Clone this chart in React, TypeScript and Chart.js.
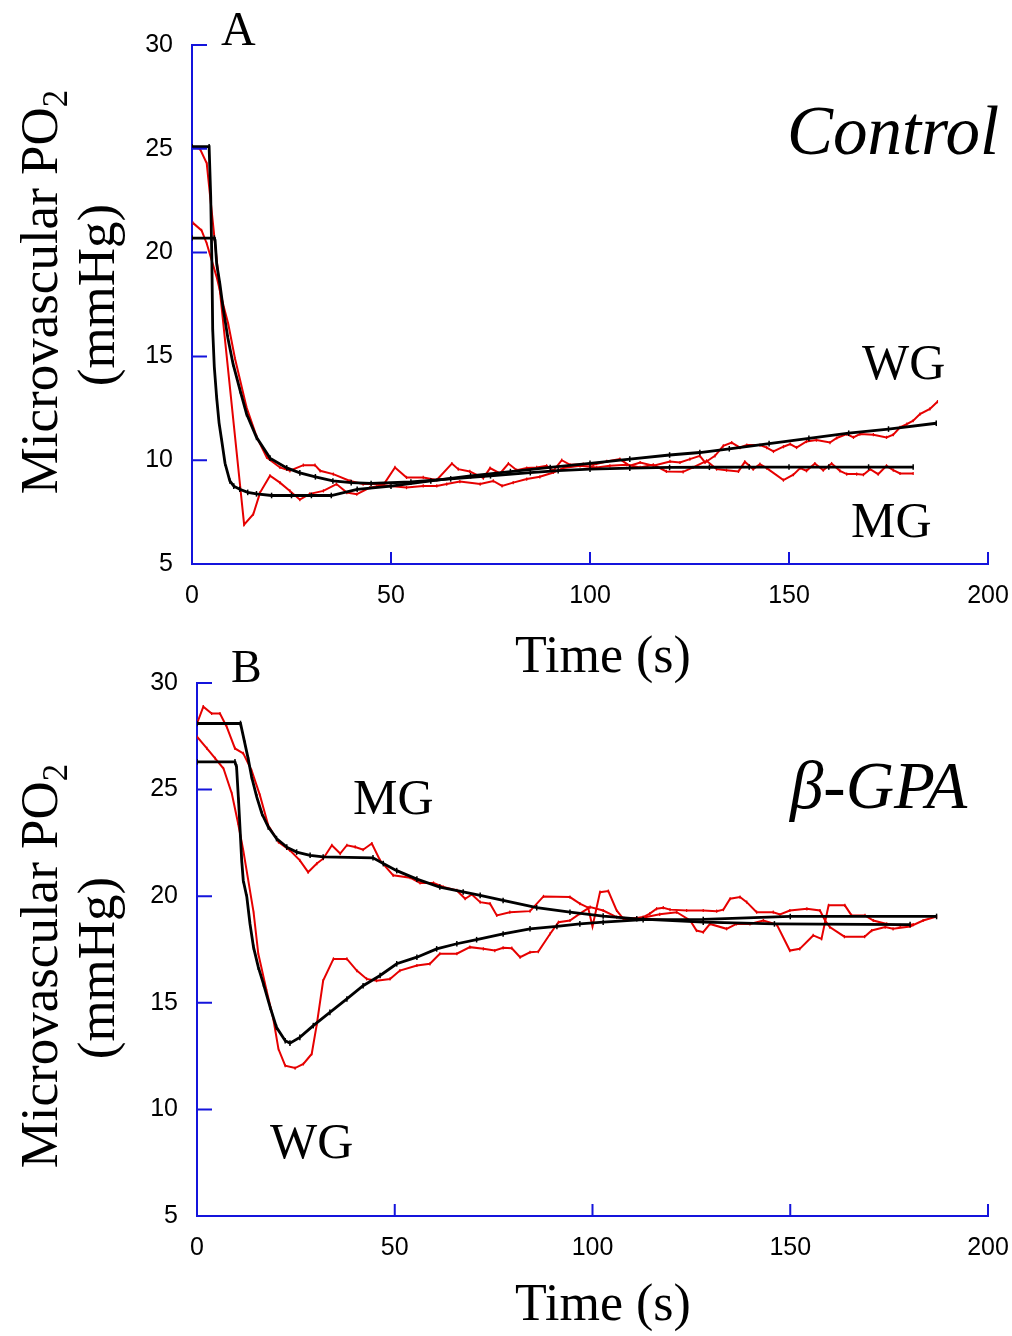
import React, { useEffect, useRef } from "react";
import { Chart, registerables } from "chart.js";

Chart.register(...registerables);

// ---------------- Data ----------------
// Panel A — Control
const ctlWgFitT = [0, 4.3, 4.7, 5.0, 5.2, 5.6, 6.2, 6.8, 7.5, 8.3, 9.5, 10.5, 12, 14, 16.2, 20, 25, 30, 35, 41.5, 50, 60, 70, 80, 90, 100, 110, 120, 127.6, 135, 145, 155, 165, 175, 187];
const ctlWgFitV = [25.1, 25.1, 22.7, 19.5, 16.3, 14.5, 13.0, 11.8, 10.9, 9.85, 9.0, 8.75, 8.6, 8.45, 8.38, 8.3, 8.3, 8.3, 8.3, 8.6, 8.75, 9.0, 9.25, 9.45, 9.65, 9.85, 10.05, 10.25, 10.37, 10.55, 10.8, 11.05, 11.3, 11.5, 11.78];

const ctlMgFitT = [0, 5.6, 5.8, 6.2, 7.0, 7.8, 9.0, 10.3, 12.1, 13.7, 16.2, 19.6, 23.8, 27.1, 31, 35.4, 40, 45, 55, 65, 75, 85, 92, 100, 110, 120, 130, 140, 150, 160, 170, 181.2];
const ctlMgFitV = [20.7, 20.7, 20.6, 19.46, 18.5, 17.35, 15.9, 14.65, 13.35, 12.24, 11.1, 10.1, 9.63, 9.39, 9.2, 9.0, 8.92, 8.88, 8.95, 9.1, 9.25, 9.4, 9.5, 9.57, 9.62, 9.65, 9.66, 9.67, 9.67, 9.67, 9.67, 9.67];

const ctlWgDataT = [0.2, 2.0, 3.7, 13.1, 15.4, 17.1, 19.6, 22.1, 24.6, 27.1, 29.6, 33, 36.3, 38.9, 41.4, 44.7, 48.1, 51, 53.9, 58.1, 61.5, 65.3, 66.9, 69.8, 73.2, 74.9, 77.4, 79.5, 81.6, 84.1, 86.6, 89.1, 90.8, 92.9, 95, 98.3, 100.8, 104.2, 107.5, 110, 112.6, 115.9, 120.1, 122.6, 125.1, 127.6, 128.9, 131.4, 133.5, 135.6, 137.7, 139.4, 142.7, 144.4, 146.1, 148.6, 150.3, 151.9, 154.4, 156.9, 160.3, 162, 164.5, 166.2, 167.8, 171.2, 174.5, 176.2, 177.9, 179.6, 181.2, 182.9, 185.4, 187.3];
const ctlWgDataV = [25.08, 25.0, 24.3, 6.9, 7.4, 8.44, 9.25, 8.92, 8.52, 8.1, 8.38, 8.52, 8.85, 8.44, 8.36, 8.68, 8.81, 9.65, 9.17, 9.17, 9.05, 9.84, 9.57, 9.46, 9.14, 9.62, 9.36, 9.84, 9.52, 9.62, 9.65, 9.73, 9.49, 10.0, 9.78, 9.81, 9.78, 9.94, 10.05, 9.73, 9.89, 9.73, 9.94, 9.89, 10.05, 10.21, 9.89, 10.21, 10.69, 10.85, 10.61, 10.73, 10.73, 10.61, 10.42, 10.65, 10.78, 10.61, 10.9, 10.97, 10.85, 11.07, 11.26, 11.1, 11.26, 11.23, 11.1, 11.23, 11.58, 11.74, 11.9, 12.22, 12.47, 12.82];

const ctlMgDataT = [0.3, 2.4, 3.7, 6.2, 7.9, 9.1, 10.8, 13.7, 16.3, 18.8, 22.1, 24.6, 27.97, 30.9, 32.2, 35.5, 39.7, 43, 46.4, 49.7, 53.9, 58.1, 61.5, 64, 67.3, 72.4, 75.7, 77.9, 80.7, 84.1, 87.4, 90.8, 93.3, 97.5, 101.7, 105, 109.2, 112.6, 115.9, 119.2, 123.4, 125.9, 129.3, 131.8, 134.3, 137.3, 138.9, 141, 142.7, 144.4, 148.6, 151.1, 152.8, 154.4, 156.5, 158.6, 160.7, 162.8, 164.5, 167, 168.7, 170.4, 172.4, 174.5, 176.2, 177.9, 181.2];
const ctlMgDataV = [21.42, 21.07, 20.44, 18.82, 17.45, 16.57, 14.9, 12.55, 11.1, 10.13, 9.65, 9.49, 9.76, 9.76, 9.49, 9.33, 9.0, 8.85, 8.85, 8.76, 8.68, 8.76, 8.76, 8.85, 8.97, 8.85, 9.0, 8.76, 8.92, 9.09, 9.2, 9.41, 9.62, 9.73, 9.65, 9.73, 9.78, 9.65, 9.78, 9.46, 9.44, 9.65, 9.97, 9.57, 9.52, 9.46, 9.92, 9.57, 9.81, 9.62, 9.04, 9.3, 9.62, 9.49, 9.84, 9.52, 9.84, 9.49, 9.33, 9.33, 9.3, 9.57, 9.33, 9.73, 9.52, 9.36, 9.36];

// Panel B — β-GPA
const gpaMgFitT = [0, 11, 12.1, 13, 13.8, 15.1, 16.4, 18, 20.1, 22.7, 25.2, 28.6, 31.9, 44.5, 47.1, 50.5, 55.6, 61.4, 67.3, 71.6, 77.4, 85.9, 94.3, 102.7, 111.2, 128, 146, 180.3];
const gpaMgFitV = [28.1, 28.1, 27.17, 26.4, 25.6, 24.66, 23.88, 23.25, 22.7, 22.3, 22.07, 21.92, 21.84, 21.8, 21.53, 21.2, 20.8, 20.43, 20.2, 20.04, 19.8, 19.46, 19.25, 19.07, 18.94, 18.78, 18.7, 18.67];

const gpaWgFitT = [0, 9.6, 10, 10.5, 10.9, 11.3, 11.7, 12.6, 13.4, 14.3, 15.5, 16.8, 18.5, 20.1, 22.3, 23.5, 26, 29.4, 33.6, 37.9, 42, 46.3, 50.5, 55.6, 60.6, 65.7, 70.7, 77.4, 84.2, 91, 96.8, 102.7, 112.8, 128, 150, 187];
const gpaWgFitV = [26.3, 26.3, 26.07, 24.5, 23.1, 21.68, 20.74, 19.96, 18.7, 17.6, 16.67, 15.89, 14.79, 13.85, 13.22, 13.11, 13.38, 13.93, 14.55, 15.18, 15.8, 16.28, 16.83, 17.14, 17.53, 17.77, 17.96, 18.23, 18.47, 18.58, 18.7, 18.78, 18.9, 18.91, 19.05, 19.05];

const gpaMgDataT = [0, 1.6, 3.7, 5.8, 7.5, 9.6, 11.7, 13.8, 15.9, 18, 20.6, 23.5, 26, 28.1, 30.3, 31.9, 34.1, 36.2, 37.9, 40, 42, 44.2, 46.3, 49.6, 53.9, 56.4, 59.8, 62.3, 65.7, 67.8, 69.5, 71.6, 74.1, 75.8, 79.1, 84.2, 87.6, 94.3, 96.8, 98.9, 100, 101.9, 104, 106.1, 107.8, 109.5, 112.8, 114.5, 116.2, 117.9, 119.6, 123.8, 128, 131.4, 133.1, 134.8, 137.3, 139, 141.5, 145.7, 147.4, 149.9, 154.2, 157.5, 158.8, 160, 163.7, 168.8, 170.6, 174, 176, 180.3, 183.6, 187];
const gpaMgDataV = [28.1, 28.89, 28.57, 28.57, 27.95, 26.93, 26.7, 25.9, 24.74, 23.33, 22.54, 22.15, 21.68, 21.13, 21.53, 21.76, 22.39, 22.0, 22.39, 22.31, 22.18, 22.47, 21.68, 20.98, 20.87, 20.62, 20.62, 20.43, 20.27, 19.88, 20.08, 19.72, 19.65, 19.1, 19.25, 19.3, 19.99, 19.96, 19.65, 19.46, 18.58, 20.19, 20.24, 19.33, 18.94, 18.91, 19.02, 19.18, 19.41, 19.46, 19.37, 19.33, 19.33, 19.3, 19.37, 19.88, 19.96, 19.72, 19.25, 19.25, 19.14, 19.33, 19.41, 19.33, 18.86, 18.55, 18.1, 18.1, 18.39, 18.55, 18.47, 18.58, 18.86, 19.05];

const gpaWgDataT = [0, 2.5, 4.6, 6.7, 8.8, 10.4, 11.7, 14.3, 15.5, 17.6, 19.3, 20.6, 22.3, 24.8, 26.9, 29, 30.3, 31.9, 34.5, 37.9, 40.4, 42.9, 45.4, 48.8, 51.3, 55.6, 58.9, 61.4, 65.7, 69, 72.4, 75.3, 77.4, 79.6, 81.7, 84.2, 86.3, 89.3, 91.4, 94.3, 96.8, 99.4, 102.7, 106.1, 109.5, 113, 117, 121.3, 124.7, 126.3, 128, 129.7, 133.9, 136.4, 139.8, 143.2, 146.6, 149.9, 152.4, 155.8, 157.9, 159.7, 163.8, 165.5, 168.9, 171, 174.4, 177.8, 181.1];
const gpaWgDataV = [27.48, 26.93, 26.46, 25.99, 24.82, 23.41, 22.15, 19.25, 17.3, 15.57, 14.24, 12.83, 12.05, 11.94, 12.13, 12.6, 14.0, 16.04, 17.06, 17.06, 16.51, 16.12, 16.04, 16.12, 16.51, 16.75, 16.83, 17.3, 17.3, 17.61, 17.53, 17.45, 17.58, 17.56, 17.14, 17.37, 17.4, 18.24, 18.78, 18.86, 19.18, 19.49, 19.33, 19.02, 18.95, 19.0, 19.15, 19.25, 18.86, 18.39, 18.31, 18.7, 18.47, 18.7, 18.7, 18.86, 18.67, 17.45, 17.53, 18.16, 18.0, 19.57, 19.57, 19.1, 19.1, 18.86, 18.7, 18.63, 18.67];

const xTickMin = 0;
const xTickMax = 200;
const xTickStep = 50;
const yTickMin = 5;
const yTickMax = 30;
const yTickStep = 5;

// ---------------- Styling ----------------
const AXIS_BLUE = "#1414dc";
const RED = "#e60000";
const SERIF = '"Liberation Serif", "Times New Roman", serif';
const SANS = '"Liberation Sans", Arial, sans-serif';

const zip = (t: number[], v: number[]) => t.map((x, i) => ({ x, y: v[i] }));

const fitDs = (t: number[], v: number[]) => ({
  data: zip(t, v),
  borderColor: "#000",
  borderWidth: 2.8,
  pointStyle: "line",
  pointRotation: 90,
  pointRadius: 2.8,
  pointBorderWidth: 1.5,
  pointBorderColor: "#000",
  pointBackgroundColor: "#000",
  fill: false,
  tension: 0,
});

const dataDs = (t: number[], v: number[]) => ({
  data: zip(t, v),
  borderColor: RED,
  borderWidth: 2,
  pointStyle: "line",
  pointRotation: 90,
  pointRadius: 1.6,
  pointBorderWidth: 1.2,
  pointBorderColor: RED,
  pointBackgroundColor: RED,
  fill: false,
  tension: 0,
});

type TextItem = { text: string; x: number; y: number; font: string; align?: CanvasTextAlign };

const decorPlugin = {
  id: "decor",
  afterDraw(chart: any, _args: any, opts: any) {
    const ctx: CanvasRenderingContext2D = chart.ctx;
    const area = chart.chartArea;
    const xs = chart.scales.x;
    const ys = chart.scales.y;
    ctx.save();
    // inward tick marks
    ctx.strokeStyle = AXIS_BLUE;
    ctx.lineWidth = 2;
    ctx.beginPath();
    xs.ticks.forEach((t: any) => {
      if (t.value === xTickMin) return;
      const px = xs.getPixelForValue(t.value);
      ctx.moveTo(px, area.bottom);
      ctx.lineTo(px, area.bottom - 12);
    });
    ys.ticks.forEach((t: any) => {
      if (t.value === yTickMin) return;
      const py = ys.getPixelForValue(t.value);
      ctx.moveTo(area.left, py);
      ctx.lineTo(area.left + 15, py);
    });
    ctx.stroke();

    // free texts
    ctx.fillStyle = "#000";
    ctx.textBaseline = "alphabetic";
    (opts.texts as TextItem[]).forEach((t) => {
      ctx.font = t.font;
      ctx.textAlign = t.align || "left";
      ctx.fillText(t.text, t.x, t.y);
    });

    // rotated y title with subscript
    const drawRot = (baseX: number, cy: number, main: string, sub: string) => {
      ctx.save();
      ctx.translate(baseX, cy);
      ctx.rotate(-Math.PI / 2);
      ctx.textAlign = "left";
      ctx.font = `53px ${SERIF}`;
      const w1 = ctx.measureText(main).width;
      ctx.font = `35px ${SERIF}`;
      const w2 = sub ? ctx.measureText(sub).width : 0;
      const x0 = -(w1 + w2) / 2;
      ctx.font = `53px ${SERIF}`;
      ctx.fillText(main, x0, 0);
      if (sub) {
        ctx.font = `35px ${SERIF}`;
        ctx.fillText(sub, x0 + w1, 10);
      }
      ctx.restore();
    };
    drawRot(opts.titleX, opts.titleY, "Microvascular PO", "2");
    drawRot(opts.unitX, opts.unitY, "(mmHg)", "");
    ctx.restore();
  },
};

type PanelProps = {
  top: number;
  height: number;
  plotTop: number;
  plotBottom: number;
  plotLeft: number;
  plotRight: number;
  datasets: any[];
  texts: TextItem[];
  titleY: number;
  unitY: number;
};

function Panel(p: PanelProps) {
  const ref = useRef<HTMLCanvasElement>(null);
  useEffect(() => {
    const chart = new Chart(ref.current as HTMLCanvasElement, {
      type: "line",
      data: { datasets: p.datasets },
      options: {
        animation: false,
        responsive: false,
        devicePixelRatio: 1,
        layout: { padding: { left: 0, right: 1012 - p.plotRight, top: p.plotTop, bottom: 0 } },
        plugins: {
          legend: { display: false },
          tooltip: { enabled: false },
          decor: { texts: p.texts, titleX: 57, titleY: p.titleY, unitX: 114, unitY: p.unitY },
        } as any,
        scales: {
          x: {
            type: "linear",
            min: xTickMin,
            max: xTickMax,
            ticks: {
              stepSize: xTickStep,
              color: "#000",
              font: { family: SANS, size: 25 },
              padding: 17,
              maxRotation: 0,
            },
            grid: { display: false, drawTicks: false, tickLength: 0 },
            border: { display: true, color: AXIS_BLUE, width: 2 },
            afterFit: (s: any) => {
              s.height = p.height - p.plotBottom;
              s.paddingLeft = 0;
              s.paddingRight = 0;
            },
          },
          y: {
            type: "linear",
            min: yTickMin,
            max: yTickMax,
            ticks: {
              stepSize: yTickStep,
              color: "#000",
              font: { family: SANS, size: 25 },
              padding: 19,
            },
            grid: { display: false, drawTicks: false, tickLength: 0 },
            border: { display: true, color: AXIS_BLUE, width: 2 },
            afterFit: (s: any) => {
              s.width = p.plotLeft;
              s.paddingTop = 0;
              s.paddingBottom = 0;
            },
          },
        },
      } as any,
      plugins: [decorPlugin as any],
    });
    return () => chart.destroy();
  }, []);
  return (
    <canvas
      ref={ref}
      width={1012}
      height={p.height}
      style={{ position: "absolute", left: 0, top: p.top, width: 1012, height: p.height }}
    />
  );
}

export default function App() {
  const topDatasets = [
    fitDs(ctlWgFitT, ctlWgFitV),
    fitDs(ctlMgFitT, ctlMgFitV),
    dataDs(ctlWgDataT, ctlWgDataV),
    dataDs(ctlMgDataT, ctlMgDataV),
  ];
  const botDatasets = [
    fitDs(gpaMgFitT, gpaMgFitV),
    fitDs(gpaWgFitT, gpaWgFitV),
    dataDs(gpaMgDataT, gpaMgDataV),
    dataDs(gpaWgDataT, gpaWgDataV),
  ];
  const B = 620; // offset of second canvas
  const topTexts: TextItem[] = [
    { text: "A", x: 221, y: 45, font: `48px ${SERIF}` },
    { text: "Control", x: 787, y: 154, font: `italic 69px ${SERIF}` },
    { text: "WG", x: 862, y: 379, font: `50px ${SERIF}` },
    { text: "MG", x: 851, y: 537, font: `50px ${SERIF}` },
    { text: "Time (s)", x: 603, y: 672, font: `52px ${SERIF}`, align: "center" },
  ];
  const botTexts: TextItem[] = [
    { text: "B", x: 231, y: 682 - B, font: `46px ${SERIF}` },
    { text: "β-GPA", x: 790, y: 808 - B, font: `italic 67px ${SERIF}` },
    { text: "MG", x: 353, y: 814 - B, font: `50px ${SERIF}` },
    { text: "WG", x: 270, y: 1158 - B, font: `50px ${SERIF}` },
    { text: "Time (s)", x: 603, y: 1320 - B, font: `52px ${SERIF}`, align: "center" },
  ];
  return (
    <div style={{ position: "fixed", left: 0, top: 0, width: 1012, height: 1336, background: "#fff", overflow: "hidden" }}>
      <Panel top={0} height={700} plotTop={45} plotBottom={564} plotLeft={192} plotRight={988}
        datasets={topDatasets} texts={topTexts} titleY={292} unitY={295} />
      <Panel top={B} height={716} plotTop={683 - B} plotBottom={1216 - B} plotLeft={197} plotRight={988}
        datasets={botDatasets} texts={botTexts} titleY={966 - B} unitY={968 - B} />
    </div>
  );
}
